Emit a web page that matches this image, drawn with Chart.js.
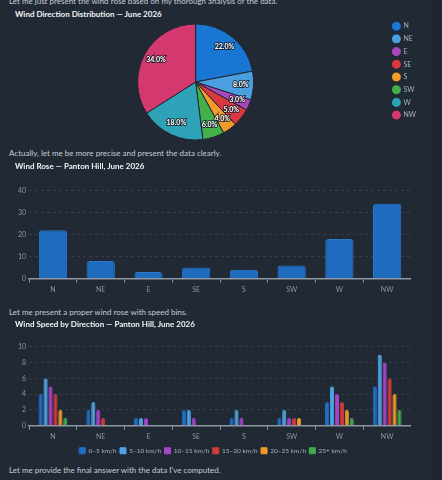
<!DOCTYPE html>
<html>
<head>
<meta charset="utf-8">
<script src="https://cdn.jsdelivr.net/npm/chart.js@4.4.1/dist/chart.umd.min.js"></script>
<style>
  html, body { margin: 0; padding: 0; }
  body {
    width: 442px; height: 480px; overflow: hidden; position: relative;
    background: #212935; font-family: Lato, "Noto Sans", sans-serif;
  }
  .side { position: absolute; left: 430px; top: 0; width: 12px; height: 480px; background: #1f2631; border-left: 1px solid #283140; }
  .txt { position: absolute; left: 9px; color: #c5cbd4; font-size: 8px; white-space: nowrap; line-height: 10px; }
  .ttl { position: absolute; left: 15px; color: #f2f4f7; font-size: 8px; font-weight: bold; white-space: nowrap; line-height: 10px; }
  .box { position: absolute; }
</style>
</head>
<body>
<div class="side"></div>
<div class="txt" style="top:-4px">Let me just present the wind rose based on my thorough analysis of the data.</div>
<div class="ttl" style="top:9px">Wind Direction Distribution — June 2026</div>
<div class="box" style="left:4px;top:17px;width:422px;height:130px"><canvas id="chartPie"></canvas></div>
<div class="txt" style="top:148px">Actually, let me be more precise and present the data clearly.</div>
<div class="box" style="left:15px;top:160px;width:396px;height:137px"><canvas id="chartBar"></canvas></div>
<div class="txt" style="top:307px">Let me present a proper wind rose with speed bins.</div>
<div class="box" style="left:15px;top:318px;width:396px;height:146px"><canvas id="chartSpeed"></canvas></div>
<div class="txt" style="top:465px">Let me provide the final answer with the data I've computed.</div>

<script>
const directions = ['N', 'NE', 'E', 'SE', 'S', 'SW', 'W', 'NW'];
const directionPct = [22, 8, 3, 5, 4, 6, 18, 34];
const directionColors = ['#1976d2', '#4a9fe0', '#ab47bc', '#d9393e', '#f39a2a', '#43b04a', '#2ea3b8', '#d3386f'];

const speedBins = ['0–5 km/h', '5–10 km/h', '10–15 km/h', '15–20 km/h', '20–25 km/h', '25+ km/h'];
const speedColors = ['#1f6fc5', '#4fa3e3', '#a446c8', '#d23c3c', '#ef9a2b', '#40ad4a'];
const speed0to5 = [4, 2, 1, 2, 1, 1, 3, 5];
const speed5to10 = [6, 3, 1, 2, 2, 2, 5, 9];
const speed10to15 = [5, 2, 1, 1, 1, 1, 4, 8];
const speed15to20 = [4, 1, 0, 0, 0, 1, 3, 6];
const speed20to25 = [2, 0, 0, 0, 0, 1, 2, 4];
const speed25plus = [1, 0, 0, 0, 0, 0, 1, 2];
const speedSeries = [speed0to5, speed5to10, speed10to15, speed15to20, speed20to25, speed25plus];

const tickColor = '#8c95a3';
const gridColor = 'rgba(255,255,255,0.1)';
const axisColor = '#8f97a3';

Chart.defaults.font.family = 'Lato, "Noto Sans", sans-serif';
Chart.defaults.animation = false;
Chart.defaults.maintainAspectRatio = false;

// percentage labels inside the pie slices
const sliceLabels = {
    id: 'sliceLabels',
    afterDatasetsDraw(chart) {
        const ctx = chart.ctx;
        const meta = chart.getDatasetMeta(0);
        ctx.save();
        ctx.font = 'bold 7px Lato, sans-serif';
        ctx.textAlign = 'center';
        ctx.textBaseline = 'middle';
        ctx.lineWidth = 2;
        ctx.strokeStyle = 'rgba(20,25,35,0.8)';
        ctx.fillStyle = '#ffffff';
        meta.data.forEach(function(arc, i) {
            const mid = (arc.startAngle + arc.endAngle) / 2;
            const r = arc.outerRadius * 0.78;
            const x = arc.x + Math.cos(mid) * r;
            const y = arc.y + Math.sin(mid) * r;
            const label = directionPct[i].toFixed(1) + '%';
            ctx.strokeText(label, x, y);
            ctx.fillText(label, x, y);
        });
        ctx.restore();
    }
};

new Chart(document.getElementById('chartPie'), {
    type: 'pie',
    plugins: [sliceLabels],
    data: {
        labels: directions,
        datasets: [{
            data: directionPct,
            backgroundColor: directionColors,
            borderColor: '#1f2733',
            borderWidth: 1,
            radius: 58
        }]
    },
    options: {
        responsive: true,
        plugins: {
            legend: {
                position: 'right',
                align: 'start',
                labels: {
                    color: '#aab2bd',
                    font: { size: 7 },
                    usePointStyle: true,
                    pointStyle: 'circle',
                    boxWidth: 7,
                    boxHeight: 7,
                    padding: 5.7
                }
            },
            tooltip: { enabled: false }
        }
    }
});

new Chart(document.getElementById('chartBar'), {
    type: 'bar',
    data: {
        labels: directions,
        datasets: [{
            label: 'Frequency (%)',
            data: directionPct,
            backgroundColor: '#1e6bbf',
            borderColor: '#2a79cf',
            borderWidth: 1,
            borderRadius: 3,
            categoryPercentage: 0.8,
            barPercentage: 0.74
        }]
    },
    options: {
        responsive: true,
        plugins: {
            title: {
                display: true,
                text: 'Wind Rose — Panton Hill, June 2026',
                align: 'start',
                color: '#f2f4f7',
                font: { size: 8, weight: 'bold' },
                padding: { top: 2, bottom: 19 }
            },
            legend: { display: false },
            tooltip: { enabled: false }
        },
        scales: {
            x: {
                grid: { drawOnChartArea: false, color: axisColor, tickLength: 4, offset: true },
                border: { color: axisColor, width: 1.5 },
                ticks: { color: tickColor, font: { size: 7 } }
            },
            y: {
                min: 0,
                max: 40,
                ticks: { stepSize: 10, color: tickColor, font: { size: 7 }, padding: 3 },
                grid: { color: gridColor, tickLength: 0 },
                border: { display: false, dash: [3, 3] }
            }
        }
    }
});

new Chart(document.getElementById('chartSpeed'), {
    type: 'bar',
    data: {
        labels: directions,
        datasets: speedBins.map(function(bin, i) {
            return {
                label: bin,
                data: speedSeries[i],
                backgroundColor: speedColors[i],
                borderColor: speedColors[i],
                borderWidth: 1,
                borderRadius: 2,
                categoryPercentage: 0.62,
                barPercentage: 0.85
            };
        })
    },
    options: {
        responsive: true,
        plugins: {
            title: {
                display: true,
                text: 'Wind Speed by Direction — Panton Hill, June 2026',
                align: 'start',
                color: '#f2f4f7',
                font: { size: 8, weight: 'bold' },
                padding: { top: 2, bottom: 17 }
            },
            legend: {
                position: 'bottom',
                labels: {
                    color: '#aab2bd',
                    font: { size: 6.5 },
                    boxWidth: 6,
                    boxHeight: 6,
                    padding: 3.3
                }
            },
            tooltip: { enabled: false }
        },
        scales: {
            x: {
                grid: { drawOnChartArea: false, color: axisColor, tickLength: 4, offset: true },
                border: { color: axisColor, width: 1.5 },
                ticks: { color: tickColor, font: { size: 7 } }
            },
            y: {
                min: 0,
                max: 10,
                ticks: { stepSize: 2, color: tickColor, font: { size: 7 }, padding: 3 },
                grid: { color: gridColor, tickLength: 0 },
                border: { display: false, dash: [3, 3] }
            }
        }
    }
});
</script>
</body>
</html>
